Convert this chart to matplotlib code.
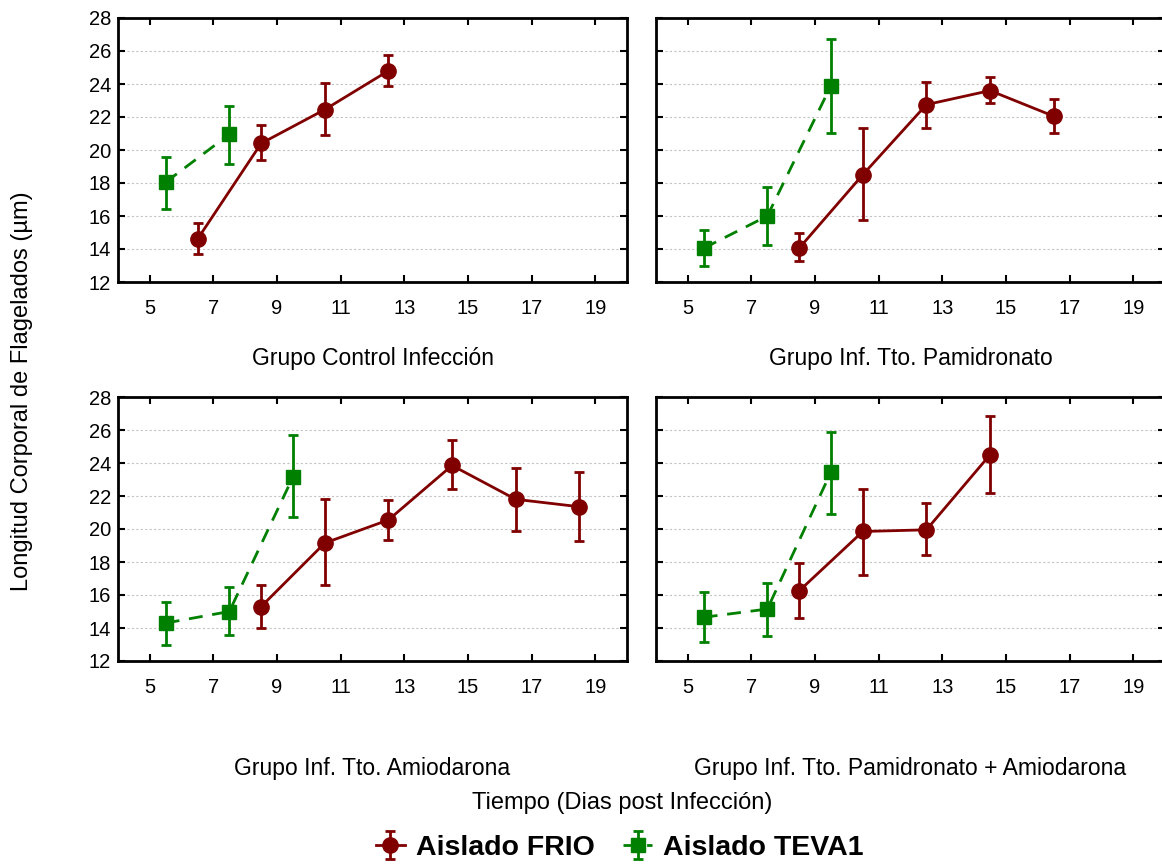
import matplotlib.pyplot as plt
import numpy as np

plt.rcParams["font.family"] = ["Liberation Sans", "DejaVu Sans"]

panel_titles = [
    "Grupo Control Infección",
    "Grupo Inf. Tto. Pamidronato",
    "Grupo Inf. Tto. Amiodarona",
    "Grupo Inf. Tto. Pamidronato + Amiodarona",
]

# Aislado TEVA1: day position, mean, lower and upper error-bar ends
teva_days = [
    [5.5, 7.5],
    [5.5, 7.5, 9.5],
    [5.5, 7.5, 9.5],
    [5.5, 7.5, 9.5],
]
teva_mean = [
    [18.05, 20.95],
    [14.05, 16.0, 23.9],
    [14.3, 15.0, 23.15],
    [14.65, 15.15, 23.45],
]
teva_low = [
    [16.45, 19.15],
    [12.95, 14.25, 21.05],
    [12.95, 13.6, 20.7],
    [13.15, 13.5, 20.9],
]
teva_high = [
    [19.6, 22.65],
    [15.15, 17.75, 26.75],
    [15.6, 16.5, 25.7],
    [16.2, 16.75, 25.85],
]

# Aislado FRIO
frio_days = [
    [6.5, 8.5, 10.5, 12.5],
    [8.5, 10.5, 12.5, 14.5, 16.5],
    [8.5, 10.5, 12.5, 14.5, 16.5, 18.5],
    [8.5, 10.5, 12.5, 14.5],
]
frio_mean = [
    [14.6, 20.4, 22.45, 24.8],
    [14.05, 18.5, 22.75, 23.6, 22.05],
    [15.3, 19.15, 20.55, 23.85, 21.8, 21.35],
    [16.25, 19.85, 19.95, 24.5],
]
frio_low = [
    [13.7, 19.4, 20.9, 23.9],
    [13.25, 15.75, 21.35, 22.85, 21.0],
    [14.0, 16.6, 19.35, 22.4, 19.85, 19.3],
    [14.6, 17.2, 18.4, 22.2],
]
frio_high = [
    [15.55, 21.5, 24.05, 25.75],
    [14.95, 21.35, 24.15, 24.4, 23.1],
    [16.6, 21.8, 21.75, 25.4, 23.7, 23.45],
    [17.95, 22.4, 21.6, 26.85],
]

x_ticks = [5, 7, 9, 11, 13, 15, 17, 19]
y_ticks = [12, 14, 16, 18, 20, 22, 24, 26, 28]

FRIO_COLOR = "#800000"
TEVA_COLOR = "#008000"

W, H = 1162, 865
fig = plt.figure(figsize=(W / 100, H / 100), dpi=100)

# axes boxes in pixels: left, top, right, bottom
boxes = [
    (118, 18, 627, 282),
    (656, 18, 1165, 282),
    (118, 397, 627, 661),
    (656, 397, 1165, 661),
]
title_y = [358, 358, 768, 768]

handles = []
for i, (l, t, r, b) in enumerate(boxes):
    ax = fig.add_axes([l / W, 1 - b / H, (r - l) / W, (b - t) / H])
    ax.set_xlim(4, 20)
    ax.set_ylim(12, 28)
    ax.set_xticks(x_ticks)
    ax.set_yticks(y_ticks)
    ax.yaxis.grid(True, color="#c4c4c4", linestyle=(0, (2, 2)), linewidth=0.8)
    ax.set_axisbelow(True)
    ax.tick_params(direction="in", top=True, right=True, length=5, width=1.5,
                   labelsize=14.5, pad=12)
    ax.tick_params(axis="y", pad=5)
    if i % 2 == 1:
        ax.set_yticklabels([])
    for s in ax.spines.values():
        s.set_linewidth(2)

    tm = np.array(teva_mean[i])
    te = [tm - np.array(teva_low[i]), np.array(teva_high[i]) - tm]
    h_teva = ax.errorbar(teva_days[i], tm, yerr=te, color=TEVA_COLOR,
                         linestyle=(0, (5, 3.5)), linewidth=2, marker="s",
                         markersize=10, capsize=3.5, elinewidth=2,
                         capthick=2, label="Aislado TEVA1", zorder=3)

    fm = np.array(frio_mean[i])
    fe = [fm - np.array(frio_low[i]), np.array(frio_high[i]) - fm]
    h_frio = ax.errorbar(frio_days[i], fm, yerr=fe, color=FRIO_COLOR,
                         linestyle="-", linewidth=2, marker="o",
                         markersize=11, capsize=3.5, elinewidth=2,
                         capthick=2, label="Aislado FRIO", zorder=4)
    if i == 0:
        handles = [h_frio, h_teva]

    fig.text((l + r) / 2 / W, 1 - title_y[i] / H, panel_titles[i],
             ha="center", va="center", fontsize=16.5)

fig.text(622 / W, 1 - 803 / H, "Tiempo (Dias post Infección)",
         ha="center", va="center", fontsize=17)
fig.text(22 / W, 1 - 391 / H, "Longitud Corporal de Flagelados (µm)",
         ha="center", va="center", rotation=90, fontsize=17)

fig.legend(handles=handles, labels=["Aislado FRIO", "Aislado TEVA1"],
           loc="center", bbox_to_anchor=(620 / W, 1 - 848 / H), ncol=2,
           frameon=False, handlelength=1.0, handletextpad=0.4,
           columnspacing=1.0, prop={"weight": "bold", "size": 20.5})

fig.savefig("out.png", dpi=100)
